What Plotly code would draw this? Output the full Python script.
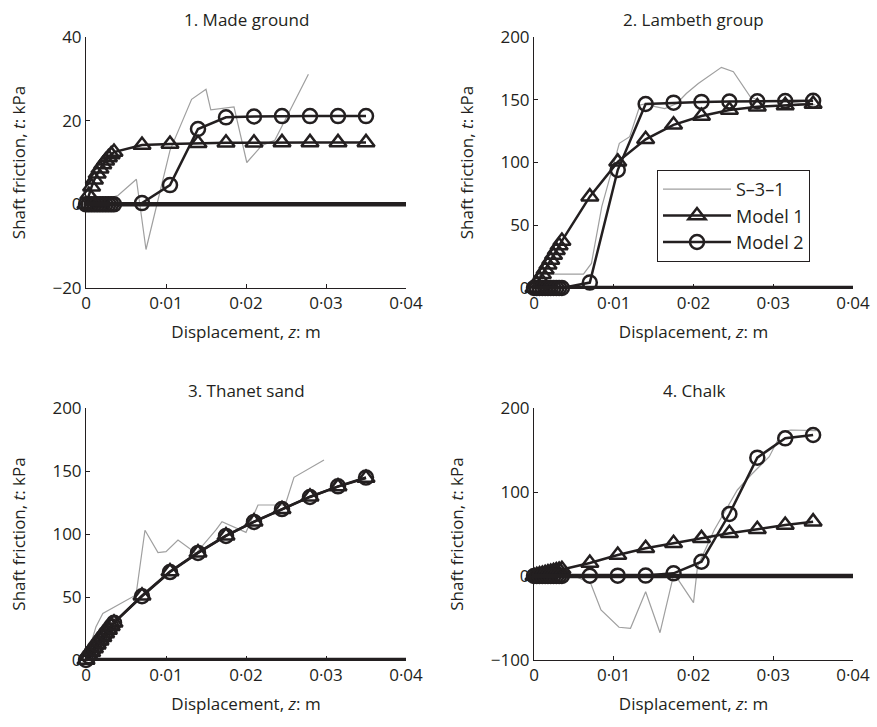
import plotly.graph_objects as go

# Displacement steps used by both numerical models (m)
z_model = [0, 0.00035, 0.0007, 0.00105, 0.0014, 0.00175, 0.0021, 0.00245,
           0.0028, 0.00315, 0.0035, 0.007, 0.0105, 0.014, 0.0175, 0.021,
           0.0245, 0.028, 0.0315, 0.035]

# 1. Made ground
mg_z_meas = [0, 0.001, 0.002, 0.003, 0.004, 0.0063, 0.0075, 0.0105, 0.0132,
             0.0150, 0.0156, 0.0185, 0.0201, 0.0220, 0.0236, 0.0278]
mg_t_meas = [0, 0.5, 1.0, 1.5, 2.1, 6.0, -10.8, 12.9, 25.1, 27.5, 22.6, 23.3,
             10.0, 14.1, 15.3, 31.1]
mg_t_m1 = [0, 2.2, 4.2, 5.9, 7.3, 8.5, 9.5, 10.4, 11.2, 11.9, 12.5, 14.2, 14.4,
           14.6, 14.7, 14.7, 14.8, 14.8, 14.8, 14.8]
mg_t_m2 = [0, 0, 0, 0, 0, 0, 0, 0, 0, 0, 0, 0.3, 4.6, 18.0, 20.8, 21.0, 21.1,
           21.1, 21.1, 21.1]

# 2. Lambeth group
lg_z_meas = [0, 0.0008, 0.0062, 0.0072, 0.0085, 0.0107, 0.0120, 0.0133, 0.0143,
             0.0152, 0.0164, 0.0179, 0.0191, 0.0206, 0.0235, 0.0250, 0.0271,
             0.0283, 0.0315, 0.0353]
lg_t_meas = [0, 11.0, 11.0, 19.6, 64.8, 115.3, 120.6, 145.8, 147.1, 144.5,
             143.0, 147.0, 155.0, 163.0, 175.8, 172.4, 152.5, 149.0, 148.5, 145.8]
lg_t_m1 = [0, 3.6, 7.3, 11.0, 14.8, 18.6, 22.4, 26.2, 30.0, 33.8, 37.5, 72.8,
           100.5, 118.5, 130.0, 137.0, 141.8, 144.5, 145.5, 146.6]
lg_t_m2 = [0, 0, 0, 0, 0, 0, 0, 0, 0, 0, 0, 4.3, 94.0, 146.6, 147.7, 148.3,
           148.6, 148.8, 149.0, 149.2]

# 3. Thanet sand
ts_z_meas = [0, 0.00125, 0.0021, 0.00625, 0.00737, 0.0090, 0.0100, 0.0115,
             0.01375, 0.01625, 0.0170, 0.0200, 0.0215, 0.0249, 0.0260, 0.02975]
ts_t_meas = [0, 26.5, 37.0, 51.6, 103.0, 85.2, 86.0, 95.2, 84.7, 103.2, 109.8,
             101.3, 123.0, 123.0, 145.0, 158.7]
ts_t_m1 = [0, 3.1, 6.2, 9.2, 12.2, 15.2, 18.1, 21.0, 23.9, 26.8, 29.6, 51.0,
           70.2, 85.2, 98.7, 109.8, 119.6, 129.6, 137.6, 144.4]
ts_t_m2 = [0, 3.0, 6.0, 9.0, 12.0, 15.0, 18.0, 20.9, 23.8, 26.7, 29.5, 50.6,
           69.8, 85.0, 98.5, 109.6, 119.8, 129.4, 137.8, 144.8]

# 4. Chalk
ch_z_meas = [0, 0.002, 0.0045, 0.0071, 0.0084, 0.01066, 0.0121, 0.0140, 0.0158,
             0.01755, 0.0200, 0.0205, 0.0226, 0.0255, 0.0272, 0.0295, 0.0311,
             0.0322, 0.0354]
ch_t_meas = [0, 1.5, 2.5, -8.7, -40.5, -61.0, -62.3, -18.7, -67.5, 3.2, -31.7,
             11.0, 54.8, 102.4, 120.2, 142.0, 171.8, 173.8, 173.0]
ch_t_m1 = [0, 0.8, 1.6, 2.4, 3.2, 4.0, 4.8, 5.6, 6.4, 7.2, 8.0, 15.5, 25.0,
           33.0, 38.9, 44.8, 50.8, 55.6, 60.7, 64.7]
ch_t_m2 = [0, 0, 0, 0, 0, 0, 0, 0, 0, 0, 0, 0.3, 0.4, 0.5, 3.2, 17.0, 73.8,
           140.9, 163.9, 167.9]

panel_titles = ["1. Made ground", "2. Lambeth group", "3. Thanet sand", "4. Chalk"]
x_tickvals = [0, 0.01, 0.02, 0.03, 0.04]
x_ticktext = ["0", "0·01", "0·02", "0·03", "0·04"]
y_ticks = [
    ([-20, 0, 20, 40], ["−20", "0", "20", "40"], [-20, 40]),
    ([0, 50, 100, 150, 200], ["0", "50", "100", "150", "200"], [0, 200]),
    ([0, 50, 100, 150, 200], ["0", "50", "100", "150", "200"], [0, 200]),
    ([-100, 0, 100, 200], ["−100", "0", "100", "200"], [-100, 200]),
]

panels = [
    (mg_z_meas, mg_t_meas, mg_t_m1, mg_t_m2),
    (lg_z_meas, lg_t_meas, lg_t_m1, lg_t_m2),
    (ts_z_meas, ts_t_meas, ts_t_m1, ts_t_m2),
    (ch_z_meas, ch_t_meas, ch_t_m1, ch_t_m2),
]

W, H = 877, 727
INK = "#231f20"
FONT = "Open Sans"
FS = 17

# Plot-area extents in pixels: (left, right) columns and (top, bottom) rows
cols = [(86, 406), (534, 853)]
rows = [(37, 288), (408, 660)]

fig = go.Figure()
layout = dict(
    width=W, height=H,
    margin=dict(l=0, r=0, t=0, b=0, autoexpand=False),
    paper_bgcolor="white", plot_bgcolor="white",
    font=dict(family=FONT, size=FS, color=INK),
    showlegend=True,
)
annotations = []
shapes = []

for i, (zm, tm, t1, t2) in enumerate(panels):
    c, r = i % 2, i // 2
    xa = "x" if i == 0 else f"x{i+1}"
    ya = "y" if i == 0 else f"y{i+1}"
    xkey = "xaxis" if i == 0 else f"xaxis{i+1}"
    ykey = "yaxis" if i == 0 else f"yaxis{i+1}"
    xd = [cols[c][0] / W, cols[c][1] / W]
    yd = [1 - rows[r][1] / H, 1 - rows[r][0] / H]
    tv, tt, yr = y_ticks[i]
    show = i == 1

    # zero-friction reference line
    shapes.append(dict(type="line", xref=xa, yref=ya, x0=0, x1=0.04, y0=0, y1=0,
                       line=dict(color=INK, width=4.5), layer="above"))

    fig.add_trace(go.Scatter(
        x=zm, y=tm, xaxis=xa, yaxis=ya, mode="lines", name="S–3–1",
        line=dict(color="#9f9f9f", width=1.2), showlegend=show, legendrank=1))
    fig.add_trace(go.Scatter(
        x=z_model, y=t1, xaxis=xa, yaxis=ya, mode="lines+markers", name="Model 1",
        line=dict(color=INK, width=2.5),
        marker=dict(symbol="triangle-up-open", size=15, color=INK,
                    line=dict(width=2.5, color=INK)),
        cliponaxis=False, showlegend=show, legendrank=2))
    fig.add_trace(go.Scatter(
        x=z_model, y=t2, xaxis=xa, yaxis=ya, mode="lines+markers", name="Model 2",
        line=dict(color=INK, width=2.5),
        marker=dict(symbol="circle-open", size=14, color=INK,
                    line=dict(width=2.5, color=INK)),
        cliponaxis=False, showlegend=show, legendrank=3))

    common = dict(showgrid=False, zeroline=False, showline=True, linecolor=INK,
                  linewidth=1, ticks="inside", ticklen=4, tickcolor=INK,
                  automargin=False,
                  tickfont=dict(family=FONT, size=FS, color=INK))
    layout[xkey] = dict(domain=xd, anchor=ya, range=[0, 0.04],
                        tickvals=x_tickvals, ticktext=x_ticktext,
                        title=dict(text="Displacement, <i>z</i>: m", standoff=12,
                                   font=dict(family=FONT, size=FS, color=INK)),
                        **common)
    layout[ykey] = dict(domain=yd, anchor=xa, range=yr, tickvals=tv, ticktext=tt,
                        title=dict(text="Shaft friction, <i>t</i>: kPa", standoff=22,
                                   font=dict(family=FONT, size=FS, color=INK)),
                        **common)

    annotations.append(dict(text=panel_titles[i], xref="paper", yref="paper",
                            x=(xd[0] + xd[1]) / 2, y=yd[1], xanchor="center",
                            yanchor="bottom", yshift=4, showarrow=False,
                            font=dict(family=FONT, size=FS, color=INK)))

layout["annotations"] = annotations
layout["shapes"] = shapes
layout["legend"] = dict(
    x=657 / W, y=1 - 170 / H, xanchor="left", yanchor="top",
    bordercolor=INK, borderwidth=1, bgcolor="white",
    font=dict(family=FONT, size=18, color=INK),
    itemwidth=68, tracegroupgap=0,
)
fig.update_layout(**layout)
fig.write_html("out.html")
